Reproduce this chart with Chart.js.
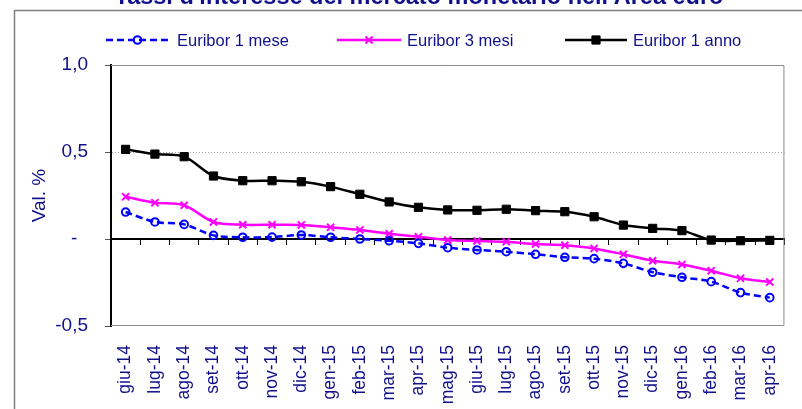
<!DOCTYPE html>
<html>
<head>
  <script src="https://cdn.jsdelivr.net/npm/chart.js@4/dist/chart.umd.min.js"></script>
  <style>
    body { margin: 0; background: #fff; }
  </style>
</head>
<body>
  <canvas id="myChart" width="802" height="409"></canvas>
  <script type="text/javascript">
    var titolo = "Tassi d'interesse del mercato monetario nell'Area euro";
    var mesi = ['giu-14', 'lug-14', 'ago-14', 'set-14', 'ott-14', 'nov-14', 'dic-14', 'gen-15', 'feb-15', 'mar-15', 'apr-15', 'mag-15',
      'giu-15', 'lug-15', 'ago-15', 'set-15', 'ott-15', 'nov-15', 'dic-15', 'gen-16', 'feb-16', 'mar-16', 'apr-16'];
    var nomiSerie = ['Euribor 1 mese', 'Euribor 3 mesi', 'Euribor 1 anno'];
    var euribor1m = [0.155, 0.098, 0.084, 0.021, 0.010, 0.011, 0.023, 0.010, 0.000, -0.010, -0.025, -0.050,
      -0.063, -0.073, -0.088, -0.105, -0.113, -0.140, -0.191, -0.220, -0.245, -0.308, -0.337];
    var euribor3m = [0.243, 0.209, 0.194, 0.098, 0.082, 0.082, 0.081, 0.067, 0.052, 0.030, 0.013, -0.006,
      -0.011, -0.016, -0.029, -0.036, -0.054, -0.088, -0.125, -0.146, -0.182, -0.226, -0.247];
    var euribor12m = [0.515, 0.488, 0.473, 0.362, 0.335, 0.335, 0.329, 0.301, 0.257, 0.213, 0.182, 0.167,
      0.165, 0.171, 0.163, 0.157, 0.128, 0.080, 0.061, 0.048, -0.006, -0.010, -0.008];
    var yMin = -0.5, yMax = 1.0, yStep = 0.5;

    var navy = '#10108a';
    var font = "'Liberation Sans', Arial, sans-serif";

    // frame, title and legend (Excel style)
    var decor = {
      id: 'decor',
      beforeDatasetsDraw: function(chart) {
        var ctx = chart.ctx, a = chart.chartArea;
        ctx.save();
        ctx.strokeStyle = '#8c8c8c';
        ctx.lineWidth = 1;
        ctx.beginPath();
        ctx.moveTo(a.left, a.top + 0.5);
        ctx.lineTo(a.right - 0.5, a.top + 0.5);
        ctx.lineTo(a.right - 0.5, a.bottom - 0.5);
        ctx.lineTo(a.left, a.bottom - 0.5);
        ctx.stroke();
        ctx.restore();
      },
      afterDraw: function(chart) {
        var ctx = chart.ctx;
        ctx.save();
        // outer border
        ctx.strokeStyle = '#808080';
        ctx.lineWidth = 1.5;
        ctx.strokeRect(14.5, 10.5, 900, 500);
        // title (cut at the top)
        ctx.fillStyle = navy;
        ctx.font = 'bold 23.5px ' + font;
        ctx.textAlign = 'center';
        ctx.textBaseline = 'alphabetic';
        ctx.fillText(titolo, 419, 4);
        // legend
        var pos = [[106, 169, 177], [337, 401, 407], [565, 627, 633]];
        var y = 40;
        chart.data.datasets.forEach(function(ds, i) {
          var p = pos[i];
          ctx.save();
          ctx.strokeStyle = ds.borderColor;
          ctx.lineWidth = ds.borderWidth;
          ctx.setLineDash(ds.borderDash || []);
          ctx.beginPath();
          ctx.moveTo(p[0], y);
          ctx.lineTo(p[1], y);
          ctx.stroke();
          ctx.setLineDash([]);
          ctx.strokeStyle = ds.pointBorderColor;
          ctx.fillStyle = ds.pointBackgroundColor;
          ctx.lineWidth = ds.pointBorderWidth;
          Chart.helpers.drawPoint(ctx, {
            pointStyle: ds.pointStyle, radius: ds.pointRadius, rotation: 0, borderWidth: ds.pointBorderWidth
          }, (p[0] + p[1]) / 2, y);
          ctx.restore();
          ctx.fillStyle = navy;
          ctx.font = '16.5px ' + font;
          ctx.textAlign = 'left';
          ctx.textBaseline = 'middle';
          ctx.fillText(ds.label, p[2], y + 1);
        });
        ctx.restore();
      }
    };

    var ctx = document.getElementById('myChart').getContext('2d');
    var chart = new Chart(ctx, {
      type: 'line',
      data: {
        labels: mesi,
        datasets: [{
            label: nomiSerie[0],
            data: euribor1m,
            borderColor: '#0000ff',
            borderWidth: 2.5,
            borderDash: [7, 4],
            pointStyle: 'circle',
            pointRadius: 3.8,
            pointBorderWidth: 2,
            pointBorderColor: '#0000ff',
            pointBackgroundColor: 'rgba(0,0,0,0)',
            tension: 0.3,
            fill: false
          },
          {
            label: nomiSerie[1],
            data: euribor3m,
            borderColor: '#ff00ff',
            borderWidth: 2.5,
            pointStyle: 'crossRot',
            pointRadius: 5,
            pointBorderWidth: 2,
            pointBorderColor: '#ff00ff',
            pointBackgroundColor: '#ff00ff',
            tension: 0.3,
            fill: false
          },
          {
            label: nomiSerie[2],
            data: euribor12m,
            borderColor: '#000000',
            borderWidth: 2.5,
            pointStyle: 'rect',
            pointRadius: 5.8,
            pointBorderWidth: 1,
            pointBorderColor: '#000000',
            pointBackgroundColor: '#000000',
            tension: 0.3,
            fill: false
          }
        ]
      },
      options: {
        responsive: false,
        animation: false,
        devicePixelRatio: 1,
        layout: {
          padding: { left: 14, top: 65, right: 10, bottom: 0 }
        },
        plugins: {
          legend: { display: false },
          title: { display: false },
          tooltip: { enabled: false }
        },
        scales: {
          x: {
            type: 'category',
            offset: true,
            grid: { display: false },
            border: { display: false },
            ticks: {
              color: navy,
              font: { family: font, size: 17.5 },
              maxRotation: 90,
              minRotation: 90,
              autoSkip: false,
              padding: 11
            },
            afterFit: function(scale) { scale.height = 83; }
          },
          x2: {
            type: 'category',
            axis: 'x',
            labels: mesi,
            offset: true,
            position: { y: 0 },
            ticks: { display: false },
            grid: {
              offset: true,
              drawOnChartArea: false,
              drawTicks: true,
              tickLength: 5,
              tickColor: '#000',
              tickWidth: 1
            },
            border: { color: '#000', width: 2 }
          },
          y: {
            min: yMin,
            max: yMax,
            ticks: {
              stepSize: yStep,
              color: navy,
              font: { family: font, size: 19 },
              padding: 17,
              callback: function(v) {
                if (Math.abs(v) < 1e-9) return '-  ';
                return v.toFixed(1).replace('.', ',');
              }
            },
            grid: {
              color: function(c) {
                return Math.abs(c.tick.value - 0.5) < 1e-9 ? '#a0a0a0' : 'rgba(0,0,0,0)';
              },
              lineWidth: 1,
              tickLength: 6,
              tickColor: '#555',
              tickBorderDash: []
            },
            border: { color: '#000', width: 2, dash: [1, 2] },
            title: {
              display: true,
              text: 'Val. %',
              color: navy,
              font: { family: font, size: 19 },
              padding: { top: 14, bottom: 0 }
            },
            afterFit: function(scale) { scale.width = 97; }
          }
        }
      },
      plugins: [decor]
    });
  </script>
</body>
</html>
